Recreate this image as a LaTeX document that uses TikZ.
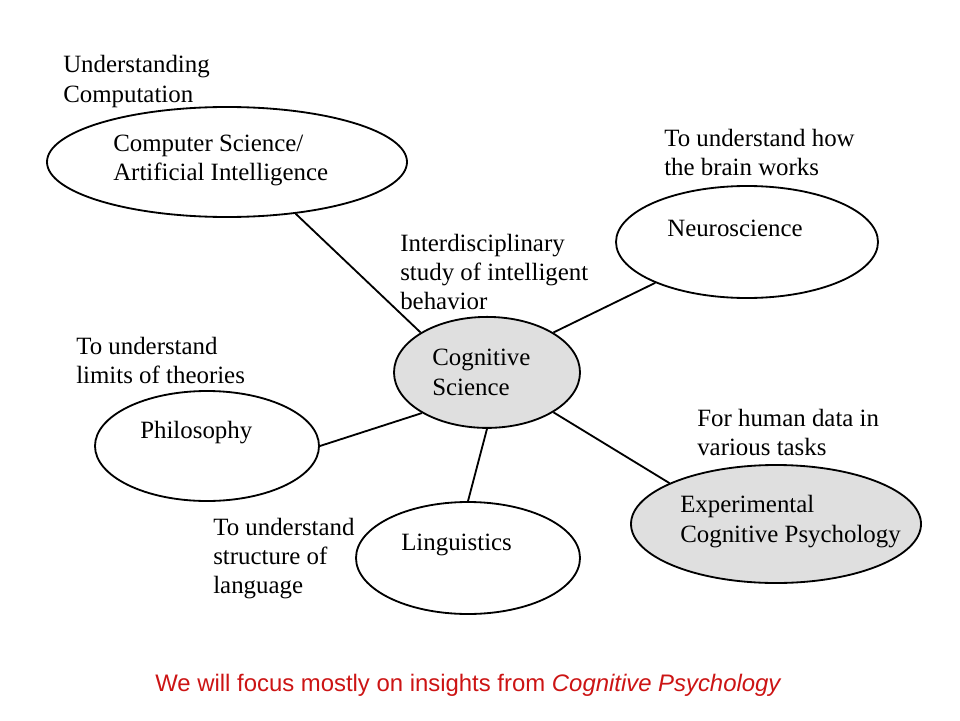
\documentclass[tikz,border=0pt]{standalone}
\usepackage{fontspec}
\usetikzlibrary{shapes.geometric}
\setmainfont{Liberation Serif}
\newfontfamily\redfont{Liberation Sans}
\definecolor{noteRed}{RGB}{204,20,20}
\begin{document}
\begin{tikzpicture}[
  field/.style={draw, ellipse, line width=1.3pt, inner sep=0pt},
  txt/.style={anchor=west, align=left, inner sep=0pt, font=\fontsize{17.7}{20.8}\selectfont},
  link/.style={line width=1.3pt}
]
\useasboundingbox (0,0) rectangle (24,18);

% the fields
\node[field, minimum width=9cm, minimum height=2.75cm] (cs) at (5.675,13.95) {};
\node[field, minimum width=6.55cm, minimum height=2.8cm] (neuro) at (18.675,11.95) {};
\node[field, fill=gray!25, minimum width=4.65cm, minimum height=2.775cm] (cog) at (12.175,8.69) {};
\node[field, minimum width=5.6cm, minimum height=2.75cm] (phil) at (5.175,6.85) {};
\node[field, minimum width=5.6cm, minimum height=2.8cm] (ling) at (11.7,4.05) {};
\node[field, fill=gray!25, minimum width=7.25cm, minimum height=2.95cm] (exp) at (19.4,4.9) {};

\draw[link] (cs.-37) -- (cog.149);
\draw[link] (neuro.204) -- (cog.31);
\draw[link] (phil.0) -- (cog.212);
\draw[link] (ling.90) -- (cog.270);
\draw[link] (exp.159) -- (cog.329);

% names inside
\node[txt] (csname) at (2.825,13.99) {Computer Science/\\Artificial Intelligence};
\node[txt] (neuroname) at (16.675,12.28) {Neuroscience};
\node[txt] (cogname) at (10.8,8.69) {Cognitive\\Science};
\node[txt] (philname) at (3.5,7.18) {Philosophy};
\node[txt] (lingname) at (10.025,4.38) {Linguistics};
\node[txt] (expname) at (17.0,4.96) {Experimental\\Cognitive Psychology};

% what each one is for
\node[txt] (csgoal) at (1.575,15.96) {Understanding\\Computation};
\node[txt] (neurogoal) at (16.6,14.19) {To understand how\\the brain works};
\node[txt] (coggoal) at (10.0,11.2) {Interdisciplinary\\study of intelligent\\behavior};
\node[txt] (philgoal) at (1.9,8.98) {To understand\\limits of theories};
\node[txt] (expgoal) at (17.425,7.18) {For human data in\\various tasks};
\node[txt] (linggoal) at (5.325,4.04) {To understand\\structure of\\language};

\node[anchor=west, inner sep=0pt, text=noteRed, font=\redfont\fontsize{17}{20}\selectfont] (focus) at (3.875,0.875)
  {We will focus mostly on insights from \textit{Cognitive Psychology}};
\end{tikzpicture}
\end{document}
